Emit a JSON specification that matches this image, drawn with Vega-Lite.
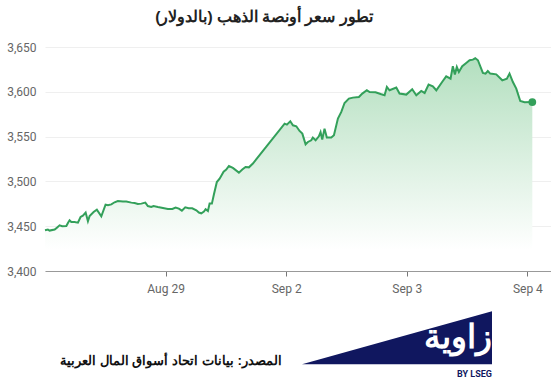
{
  "$schema": "https://vega.github.io/schema/vega-lite/v6.json",
  "width": 506,
  "height": 224,
  "autosize": {"type": "none"},
  "padding": {"left": 45, "top": 47, "right": 0, "bottom": 109},
  "background": "white",
  "title": {
    "text": "تطور سعر أونصة الذهب (بالدولار)",
    "fontSize": 15.5,
    "fontWeight": "bold",
    "color": "#222222",
    "anchor": "middle",
    "frame": "group",
    "dx": -34,
    "offset": 16
  },
  "config": {
    "view": {"stroke": null},
    "axis": {"labelFont": "Roboto", "labelFontSize": 12, "labelColor": "#666666", "title": null}
  },
  "datasets": {
    "gold": [
      {"day": 0.000, "price": 3445.4}, {"day": 0.024, "price": 3446.2}, {"day": 0.038, "price": 3445.1},
      {"day": 0.080, "price": 3446.2}, {"day": 0.099, "price": 3448.4}, {"day": 0.121, "price": 3451.0},
      {"day": 0.143, "price": 3449.9}, {"day": 0.177, "price": 3450.2}, {"day": 0.190, "price": 3453.6},
      {"day": 0.204, "price": 3456.6}, {"day": 0.218, "price": 3454.7}, {"day": 0.245, "price": 3454.7},
      {"day": 0.273, "price": 3454.0}, {"day": 0.295, "price": 3460.3}, {"day": 0.314, "price": 3461.8},
      {"day": 0.337, "price": 3465.2}, {"day": 0.356, "price": 3455.5}, {"day": 0.370, "price": 3461.4},
      {"day": 0.403, "price": 3465.8}, {"day": 0.430, "price": 3468.5}, {"day": 0.467, "price": 3461.1},
      {"day": 0.502, "price": 3474.1}, {"day": 0.522, "price": 3473.3}, {"day": 0.550, "price": 3474.4},
      {"day": 0.577, "price": 3476.7}, {"day": 0.604, "price": 3478.1}, {"day": 0.646, "price": 3477.5},
      {"day": 0.674, "price": 3477.5}, {"day": 0.716, "price": 3476.3}, {"day": 0.743, "price": 3475.9},
      {"day": 0.770, "price": 3474.8}, {"day": 0.799, "price": 3475.2}, {"day": 0.832, "price": 3476.3},
      {"day": 0.853, "price": 3472.5}, {"day": 0.881, "price": 3471.4}, {"day": 0.900, "price": 3472.5},
      {"day": 0.936, "price": 3471.4}, {"day": 0.978, "price": 3470.3}, {"day": 1.019, "price": 3469.2},
      {"day": 1.056, "price": 3469.2}, {"day": 1.083, "price": 3470.8}, {"day": 1.110, "price": 3469.6},
      {"day": 1.135, "price": 3467.4}, {"day": 1.163, "price": 3471.1}, {"day": 1.191, "price": 3470.0},
      {"day": 1.221, "price": 3470.0}, {"day": 1.255, "price": 3467.7}, {"day": 1.276, "price": 3465.2},
      {"day": 1.296, "price": 3464.4}, {"day": 1.318, "price": 3466.3}, {"day": 1.332, "price": 3468.9},
      {"day": 1.351, "price": 3467.0}, {"day": 1.365, "price": 3475.2}, {"day": 1.384, "price": 3475.2},
      {"day": 1.401, "price": 3485.6}, {"day": 1.425, "price": 3499.3}, {"day": 1.448, "price": 3503.1},
      {"day": 1.481, "price": 3510.9}, {"day": 1.503, "price": 3513.2}, {"day": 1.525, "price": 3517.2},
      {"day": 1.558, "price": 3515.0}, {"day": 1.608, "price": 3509.8}, {"day": 1.636, "price": 3513.2},
      {"day": 1.663, "price": 3516.1}, {"day": 1.691, "price": 3515.7}, {"day": 1.724, "price": 3519.9},
      {"day": 1.987, "price": 3564.5}, {"day": 2.006, "price": 3563.4}, {"day": 2.034, "price": 3567.1},
      {"day": 2.056, "price": 3562.6}, {"day": 2.084, "price": 3561.5}, {"day": 2.111, "price": 3556.3},
      {"day": 2.134, "price": 3553.3}, {"day": 2.161, "price": 3541.4}, {"day": 2.180, "price": 3544.0},
      {"day": 2.208, "price": 3545.9}, {"day": 2.221, "price": 3548.9}, {"day": 2.244, "price": 3545.9},
      {"day": 2.271, "price": 3550.3}, {"day": 2.285, "price": 3555.1}, {"day": 2.299, "price": 3546.7},
      {"day": 2.318, "price": 3558.9}, {"day": 2.337, "price": 3548.9}, {"day": 2.374, "price": 3548.9},
      {"day": 2.396, "price": 3551.5}, {"day": 2.429, "price": 3570.1}, {"day": 2.457, "price": 3577.5},
      {"day": 2.484, "price": 3587.5}, {"day": 2.520, "price": 3592.4}, {"day": 2.553, "price": 3593.5},
      {"day": 2.603, "price": 3594.2}, {"day": 2.631, "price": 3598.0}, {"day": 2.669, "price": 3601.7},
      {"day": 2.692, "price": 3599.8}, {"day": 2.741, "price": 3599.5}, {"day": 2.789, "price": 3597.2},
      {"day": 2.816, "price": 3596.1}, {"day": 2.835, "price": 3605.4}, {"day": 2.857, "price": 3601.7},
      {"day": 2.913, "price": 3604.7}, {"day": 2.940, "price": 3598.0}, {"day": 2.996, "price": 3596.9},
      {"day": 3.045, "price": 3602.8}, {"day": 3.079, "price": 3596.1}, {"day": 3.120, "price": 3600.9},
      {"day": 3.148, "price": 3598.7}, {"day": 3.181, "price": 3608.0}, {"day": 3.216, "price": 3606.1},
      {"day": 3.245, "price": 3601.7}, {"day": 3.299, "price": 3612.1}, {"day": 3.327, "price": 3617.3},
      {"day": 3.363, "price": 3614.7}, {"day": 3.382, "price": 3628.5}, {"day": 3.399, "price": 3619.2},
      {"day": 3.415, "price": 3627.7}, {"day": 3.432, "price": 3622.1}, {"day": 3.460, "price": 3628.5},
      {"day": 3.493, "price": 3632.2}, {"day": 3.521, "price": 3635.2}, {"day": 3.548, "price": 3635.9},
      {"day": 3.568, "price": 3637.4}, {"day": 3.590, "price": 3635.2}, {"day": 3.631, "price": 3621.0},
      {"day": 3.653, "price": 3620.3}, {"day": 3.672, "price": 3623.2}, {"day": 3.692, "price": 3620.3},
      {"day": 3.742, "price": 3619.5}, {"day": 3.792, "price": 3612.8}, {"day": 3.830, "price": 3614.7},
      {"day": 3.852, "price": 3620.3}, {"day": 3.880, "price": 3610.9}, {"day": 3.908, "price": 3603.6},
      {"day": 3.941, "price": 3589.7}, {"day": 3.977, "price": 3588.3}, {"day": 4.041, "price": 3588.6}
    ]
  },
  "layer": [
    {
      "data": {"name": "gold"},
      "mark": {
        "type": "area",
        "fill": {
          "gradient": "linear",
          "x1": 1, "y1": 1, "x2": 1, "y2": 0,
          "stops": [
            {"offset": 0, "color": "#ffffff"},
            {"offset": 0.1, "color": "#ffffff"},
            {"offset": 1, "color": "#b3dfbf"}
          ]
        }
      },
      "encoding": {
        "x": {
          "field": "day", "type": "quantitative",
          "scale": {"domain": [0, 4.196], "nice": false, "zero": false},
          "axis": {
            "values": [1, 2, 3, 4],
            "labelExpr": "datum.value == 1 ? 'Aug 29' : datum.value == 2 ? 'Sep 2' : datum.value == 3 ? 'Sep 3' : 'Sep 4'",
            "grid": false,
            "domainColor": "#999999",
            "tickColor": "#777777",
            "tickSize": 5,
            "labelPadding": 7,
            "zindex": 1
          }
        },
        "y": {
          "field": "price", "type": "quantitative",
          "scale": {"domain": [3400, 3650], "nice": false, "zero": false},
          "axis": {
            "values": [3400, 3450, 3500, 3550, 3600, 3650],
            "format": ",.0f",
            "domain": false,
            "ticks": false,
            "grid": true,
            "gridColor": "#efefef",
            "labelPadding": 9
          }
        },
        "y2": {"datum": 3400}
      }
    },
    {
      "data": {"name": "gold"},
      "mark": {"type": "line", "color": "#33a05a", "strokeWidth": 2},
      "encoding": {
        "x": {"field": "day", "type": "quantitative"},
        "y": {"field": "price", "type": "quantitative"}
      }
    },
    {
      "data": {"name": "gold"},
      "transform": [{"filter": "datum.day > 4"}],
      "mark": {"type": "point", "filled": true, "color": "#33a05a", "size": 60, "opacity": 1},
      "encoding": {
        "x": {"field": "day", "type": "quantitative"},
        "y": {"field": "price", "type": "quantitative"}
      }
    },
    {
      "data": {"values": [{"label": "المصدر: بيانات اتحاد أسواق المال العربية"}]},
      "mark": {"type": "text", "align": "right", "baseline": "middle", "fontSize": 13.3, "fontWeight": "bold", "color": "#111111"},
      "encoding": {
        "x": {"datum": 1.965, "type": "quantitative"},
        "y": {"datum": 3300, "type": "quantitative"},
        "text": {"field": "label"}
      }
    },
    {
      "data": {"values": [{"logo": "triangle"}]},
      "mark": {"type": "point", "filled": true, "color": "#10175f", "opacity": 1, "size": 36100, "shape": "M -1 0.279 L 1 -0.279 L 1 0.279 Z"},
      "encoding": {
        "x": {"datum": 2.919, "type": "quantitative"},
        "y": {"datum": 3325.4, "type": "quantitative"}
      }
    },
    {
      "data": {"values": [{"label": "زاوية"}]},
      "mark": {"type": "text", "align": "right", "baseline": "middle", "fontSize": 33, "fontWeight": "bold", "color": "#ffffff"},
      "encoding": {
        "x": {"datum": 3.71, "type": "quantitative"},
        "y": {"datum": 3324.9, "type": "quantitative"},
        "text": {"field": "label"}
      }
    },
    {
      "data": {"values": [{"label": "BY LSEG"}]},
      "mark": {"type": "text", "align": "right", "baseline": "middle", "fontSize": 9, "fontWeight": "bold", "font": "Roboto", "color": "#10175f"},
      "encoding": {
        "x": {"datum": 3.706, "type": "quantitative"},
        "y": {"datum": 3284.7, "type": "quantitative"},
        "text": {"field": "label"}
      }
    }
  ]
}
